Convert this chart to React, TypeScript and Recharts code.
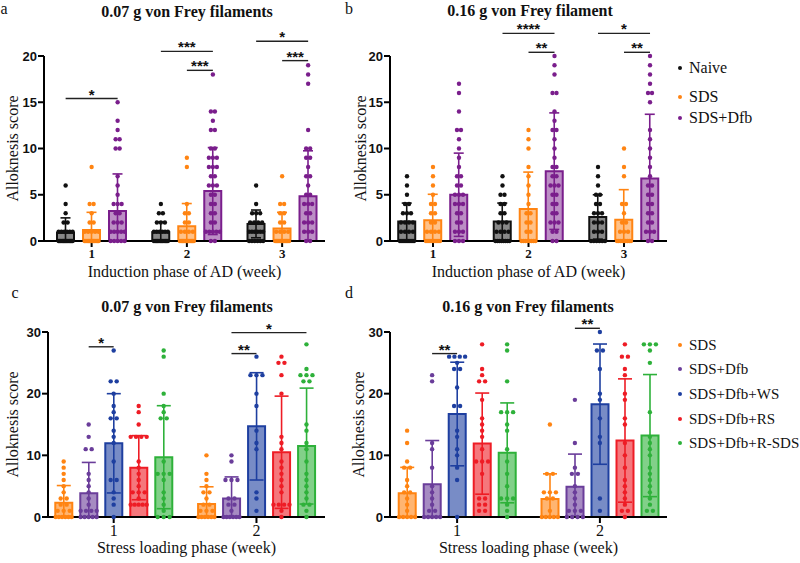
import React from "react";
import {
  ComposedChart,
  Bar,
  ErrorBar,
  Scatter,
  XAxis,
  YAxis,
  ReferenceLine,
  ReferenceDot,
} from "recharts";

const serif = '"Liberation Serif", "Times New Roman", serif';
const sans = '"Liberation Sans", Arial, sans-serif';

// categories
const weeksTop = [1, 2, 3];
const weeksBottom = [1, 2];
const groupsTop = ["Naive", "SDS", "SDS+Dfb"];
const groupsBottom = ["SDS", "SDS+Dfb", "SDS+Dfb+WS", "SDS+Dfb+RS", "SDS+Dfb+R-SDS"];
const colorsTop = ["#111111", "#FF8412", "#7A1E8C"];
const colorsBottom = ["#FF8412", "#6A3D9A", "#1E3FA0", "#EE1C25", "#2EB13A"];

// panel a: 0.07 g, induction phase (rows = group, cols = week)
const aMeans = [
  [0.9, 0.95, 1.85],
  [1.2, 1.6, 1.35],
  [3.25, 5.4, 4.85],
];
const aSds = [
  [1.6, 1.1, 1.5],
  [1.9, 2.45, 1.75],
  [4.0, 4.7, 4.9],
];
const aDots = [
  [
    [6, 4, 3, 2, 2, 1, 1, 1, 1, 1, 1, 0, 0, 0, 0, 0, 0, 0, 0, 0, 0, 0, 0, 0],
    [4, 3, 3, 2, 2, 2, 1, 1, 1, 1, 1, 1, 0, 0, 0, 0, 0, 0, 0, 0, 0, 0, 0, 0],
    [6, 4, 3, 3, 3, 2, 2, 2, 2, 1, 1, 1, 1, 1, 1, 0, 0, 0, 0, 0, 0],
  ],
  [
    [8, 4, 4, 3, 2, 2, 1, 1, 1, 1, 1, 0, 0, 0, 0, 0, 0, 0, 0, 0, 0, 0, 0],
    [9, 8, 4, 3, 3, 2, 2, 1, 1, 1, 1, 0, 0, 0, 0, 0, 0, 0, 0, 0, 0, 0, 0],
    [7, 4, 4, 3, 3, 2, 2, 1, 1, 1, 1, 0, 0, 0, 0, 0, 0, 0, 0, 0, 0, 0, 0],
  ],
  [
    [15, 13, 12, 11, 11, 10, 10, 7, 6, 5, 4, 4, 4, 3, 3, 2, 2, 2, 1, 1, 1, 1, 1, 0, 0, 0, 0, 0],
    [18, 14, 14, 13, 12, 12, 10, 10, 9, 9, 9, 8, 8, 8, 7, 7, 6, 6, 6, 5, 5, 4, 4, 3, 3, 2, 2, 1, 1, 1, 1, 1, 0, 0],
    [19, 18, 17, 12, 10, 10, 9, 9, 8, 7, 7, 6, 5, 5, 4, 4, 4, 3, 3, 2, 2, 2, 1, 1, 1, 0, 0],
  ],
];
const aSig = [
  { week: 1, from: 0, to: 2, level: 15.4, label: "*" },
  { week: 2, from: 0, to: 2, level: 20.5, label: "***" },
  { week: 2, from: 1, to: 2, level: 18.45, label: "***" },
  { week: 3, from: 0, to: 2, level: 21.6, label: "*" },
  { week: 3, from: 1, to: 2, level: 19.5, label: "***" },
];

// panel b: 0.16 g, induction phase
const bMeans = [
  [2.1, 2.1, 2.6],
  [2.25, 3.45, 2.3],
  [5.0, 7.55, 6.75],
];
const bSds = [
  [2.0, 2.0, 2.4],
  [2.8, 4.0, 3.25],
  [4.5, 6.3, 6.95],
];
const bDots = [
  [
    [7, 6, 5, 4, 4, 3, 3, 3, 2, 2, 2, 2, 1, 1, 1, 1, 0, 0, 0, 0, 0, 0, 0, 0],
    [7, 6, 5, 5, 4, 4, 3, 3, 2, 2, 2, 1, 1, 1, 1, 0, 0, 0, 0, 0, 0, 0, 0],
    [8, 7, 6, 5, 5, 4, 4, 3, 3, 3, 2, 2, 2, 1, 1, 1, 0, 0, 0, 0, 0, 0],
  ],
  [
    [8, 7, 6, 5, 4, 4, 3, 3, 2, 2, 1, 1, 1, 1, 0, 0, 0, 0, 0, 0, 0, 0],
    [12, 11, 10, 8, 7, 6, 5, 4, 3, 3, 2, 2, 1, 1, 0, 0, 0, 0, 0, 0, 0, 0],
    [10, 8, 7, 4, 4, 3, 2, 2, 1, 1, 1, 0, 0, 0, 0, 0, 0, 0, 0, 0],
  ],
  [
    [17, 16, 14, 12, 12, 11, 10, 9, 8, 7, 7, 6, 6, 5, 5, 5, 4, 4, 4, 3, 3, 2, 2, 1, 1, 1, 0, 0, 0],
    [20, 19, 18, 16, 16, 14, 13, 12, 12, 11, 10, 9, 8, 8, 7, 7, 6, 6, 6, 5, 5, 4, 4, 3, 3, 2, 2, 2, 1, 1, 0, 0],
    [20, 19, 18, 17, 16, 16, 15, 12, 11, 10, 9, 8, 7, 6, 6, 5, 5, 4, 4, 3, 3, 2, 2, 1, 1, 1, 0, 0],
  ],
];
const bSig = [
  { week: 2, from: 0, to: 2, level: 22.45, label: "****" },
  { week: 2, from: 1, to: 2, level: 20.4, label: "**" },
  { week: 3, from: 0, to: 2, level: 22.45, label: "*" },
  { week: 3, from: 1, to: 2, level: 20.4, label: "**" },
];

// panel c: 0.07 g, stress loading phase
const cMeans = [
  [2.3, 2.1],
  [3.85, 3.0],
  [11.95, 14.7],
  [8.0, 10.5],
  [9.7, 11.5],
];
const cSds = [
  [2.8, 2.8],
  [5.0, 3.5],
  [8.05, 8.7],
  [5.2, 9.1],
  [8.35, 9.4],
];
const cDots = [
  [
    [9, 8, 7, 6, 5, 4, 3, 3, 2, 2, 1, 1, 1, 0, 0, 0, 0, 0, 0],
    [10, 7, 6, 5, 4, 4, 3, 2, 2, 1, 1, 1, 0, 0, 0, 0, 0, 0],
  ],
  [
    [15, 13, 11, 11, 7, 6, 5, 4, 3, 2, 1, 1, 1, 1, 0, 0, 0, 0, 0],
    [10, 9, 6, 6, 6, 3, 3, 2, 2, 1, 0, 0, 0, 0, 0, 0],
  ],
  [
    [27, 22, 22, 20, 18, 17, 16, 16, 14, 13, 12, 9, 6, 6, 4, 3, 2, 0],
    [26, 23, 23, 23, 20, 18, 14, 12, 11, 4, 3, 1],
  ],
  [
    [18, 17, 15, 13, 13, 13, 13, 9, 8, 7, 6, 5, 4, 4, 4, 3, 2, 2, 2, 2, 2],
    [26, 25, 25, 23, 20, 13, 12, 11, 9, 8, 7, 6, 5, 4, 2, 2, 2, 2, 1, 0],
  ],
  [
    [27, 26, 20, 18, 17, 16, 16, 9, 7, 7, 7, 6, 4, 3, 2, 1, 0, 0, 0],
    [28, 24, 23, 23, 23, 22, 22, 15, 14, 12, 11, 9, 7, 6, 5, 4, 3, 2, 2, 1, 0],
  ],
];
const cSig = [
  { week: 1, from: 1, to: 2, level: 27.6, label: "*" },
  { week: 2, from: 1, to: 4, level: 29.9, label: "*" },
  { week: 2, from: 1, to: 2, level: 26.5, label: "**" },
];

// panel d: 0.16 g, stress loading phase
const dMeans = [
  [3.85, 2.9],
  [5.3, 4.9],
  [16.7, 18.3],
  [11.9, 12.4],
  [10.4, 13.2],
];
const dSds = [
  [4.2, 4.1],
  [7.1, 5.3],
  [8.4, 9.75],
  [8.2, 10.0],
  [8.1, 9.9],
];
const dDots = [
  [
    [14, 12, 9, 8, 8, 6, 5, 4, 4, 3, 2, 1, 0, 0, 0, 0, 0],
    [15, 7, 7, 4, 4, 4, 3, 3, 1, 0, 0, 0, 0, 0],
  ],
  [
    [23, 22, 12, 11, 8, 5, 4, 3, 2, 1, 1, 0, 0, 0, 0, 0],
    [19, 12, 8, 7, 7, 5, 4, 3, 2, 1, 1, 1, 0, 0, 0, 0],
  ],
  [
    [26, 26, 26, 26, 25, 24, 24, 21, 18, 18, 14, 13, 11, 10, 8, 6, 0],
    [30, 27, 27, 24, 20, 19, 16, 13, 12, 3, 1],
  ],
  [
    [28, 24, 23, 22, 22, 19, 16, 15, 14, 13, 11, 9, 9, 9, 7, 3, 3, 2, 2, 1, 1],
    [28, 26, 26, 24, 23, 20, 19, 16, 15, 12, 10, 8, 6, 5, 4, 3, 2, 1, 1, 0],
  ],
  [
    [28, 27, 22, 17, 17, 17, 15, 14, 11, 9, 7, 5, 3, 3, 3, 2, 1, 0],
    [28, 28, 28, 27, 25, 17, 13, 12, 11, 10, 8, 7, 6, 5, 4, 3, 2, 1, 1],
  ],
];
const dSig = [
  { week: 1, from: 1, to: 2, level: 26.5, label: "**" },
  { week: 2, from: 1, to: 2, level: 30.6, label: "**" },
];

type Sig = { week: number; from: number; to: number; level: number; label: string };

type PanelProps = {
  left: number;
  top: number;
  width: number;
  height: number;
  margin: { top: number; right: number; bottom: number; left: number };
  yAxisWidth: number;
  weeks: number[];
  xDomain: [number, number];
  yMax: number;
  yTicks: number[];
  groups: string[];
  colors: string[];
  fillOpacity: number;
  means: number[][];
  sds: number[][];
  dots: number[][][];
  sig: Sig[];
  barSize: number;
  barGap: number;
  swarmPx: number;
  swarmMax: number;
  capWidth: number;
  xTick: any;
  yLabelX: number;
  xLabel: string;
};

const Panel = (p: PanelProps) => {
  const plotW = p.width - p.margin.left - p.margin.right - p.yAxisWidth;
  const unitPx = plotW / (p.xDomain[1] - p.xDomain[0]);
  const n = p.groups.length;
  const slot = (p.barSize + p.barGap) / unitPx;
  const groupX = (week: number, j: number) => week + (j - (n - 1) / 2) * slot;

  const rows = p.weeks.map((w, i) => {
    const r: any = { x: w };
    p.groups.forEach((_, j) => {
      r[`m${j}`] = p.means[j][i];
      r[`e${j}`] = [Math.min(p.sds[j][i], p.means[j][i]), p.sds[j][i]];
    });
    return r;
  });

  // spread equal values side by side (beeswarm style)
  const swarm = (vals: number[], center: number) => {
    const counts = new Map<number, number>();
    vals.forEach((v) => counts.set(v, (counts.get(v) || 0) + 1));
    const out: { x: number; y: number }[] = [];
    counts.forEach((k, v) => {
      const step = k > 1 ? Math.min(p.swarmPx, p.swarmMax / (k - 1)) : 0;
      for (let i = 0; i < k; i++) {
        out.push({ x: center + ((i - (k - 1) / 2) * step) / unitPx, y: v });
      }
    });
    return out;
  };

  const dotData = p.groups.map((_, j) =>
    p.weeks.flatMap((w, i) => swarm(p.dots[j][i], groupX(w, j)))
  );

  return (
    <div style={{ position: "absolute", left: p.left, top: p.top }}>
      <ComposedChart
        width={p.width}
        height={p.height}
        data={rows}
        margin={p.margin}
        barSize={p.barSize}
        barGap={p.barGap}
      >
        <XAxis
          dataKey="x"
          type="number"
          domain={p.xDomain}
          ticks={p.weeks}
          height={20}
          tickSize={6}
          tickMargin={2}
          tick={p.xTick}
          tickLine={{ stroke: "#000", strokeWidth: 2 }}
          axisLine={{ stroke: "#000", strokeWidth: 2 }}
          label={{
            content: ({ viewBox }: any) => (
              <text
                x={viewBox.x + viewBox.width / 2}
                y={viewBox.y + 36}
                textAnchor="middle"
                fontFamily={serif}
                fontSize={16}
                fill="#111"
              >
                {p.xLabel}
              </text>
            ),
          }}
        />
        <XAxis xAxisId="dots" dataKey="x" type="number" domain={p.xDomain} hide />
        <YAxis
          domain={[0, p.yMax]}
          ticks={p.yTicks}
          width={p.yAxisWidth}
          tickSize={6}
          tickMargin={1}
          tick={{ fill: "#111", fontSize: 13, fontWeight: 700, fontFamily: sans }}
          tickLine={{ stroke: "#000", strokeWidth: 2 }}
          axisLine={{ stroke: "#000", strokeWidth: 2 }}
          label={{
            content: ({ viewBox }: any) => {
              const cy = viewBox.y + viewBox.height / 2;
              return (
                <text
                  x={p.yLabelX}
                  y={cy}
                  transform={`rotate(-90 ${p.yLabelX} ${cy})`}
                  textAnchor="middle"
                  dominantBaseline="central"
                  fontFamily={serif}
                  fontSize={16}
                  fill="#111"
                >
                  Alloknesis score
                </text>
              );
            },
          }}
        />
        {p.groups.map((g, j) => (
          <Bar
            key={g}
            dataKey={`m${j}`}
            fill={p.colors[j]}
            fillOpacity={p.fillOpacity}
            stroke={p.colors[j]}
            strokeWidth={2}
            isAnimationActive={false}
          >
            <ErrorBar
              dataKey={`e${j}`}
              direction="y"
              width={p.capWidth}
              stroke={p.colors[j]}
              strokeWidth={1.6}
            />
          </Bar>
        ))}
        {p.groups.map((g, j) => (
          <Scatter
            key={`dots-${g}`}
            xAxisId="dots"
            data={dotData[j]}
            dataKey="y"
            fill={p.colors[j]}
            isAnimationActive={false}
            shape={(s: any) => <circle cx={s.cx} cy={s.cy} r={2.2} fill={p.colors[j]} />}
          />
        ))}
        {p.sig.map((s, k) => (
          <ReferenceLine
            key={`l${k}`}
            ifOverflow="visible"
            segment={[
              { x: groupX(s.week, s.from), y: s.level },
              { x: groupX(s.week, s.to), y: s.level },
            ]}
            stroke="#222"
            strokeWidth={1.4}
          />
        ))}
        {p.sig.map((s, k) => (
          <ReferenceDot
            key={`s${k}`}
            ifOverflow="visible"
            x={(groupX(s.week, s.from) + groupX(s.week, s.to)) / 2}
            y={s.level}
            r={1}
            shape={(d: any) => (
              <text
                x={d.cx}
                y={d.cy + 1}
                textAnchor="middle"
                fontFamily={sans}
                fontWeight={700}
                fontSize={15}
                fill="#111"
              >
                {s.label}
              </text>
            )}
          />
        ))}
      </ComposedChart>
    </div>
  );
};

const Text = ({ x, y, children, bold, size = 16, anchor = "center" }: any) => (
  <div
    style={{
      position: "absolute",
      left: x,
      top: y,
      transform: anchor === "center" ? "translate(-50%, -50%)" : "translate(0, -50%)",
      whiteSpace: "nowrap",
      fontFamily: serif,
      fontSize: size,
      fontWeight: bold ? 700 : 400,
      color: "#111",
      lineHeight: 1,
    }}
  >
    {children}
  </div>
);

const LegendList = ({ x, ys, labels, colors, size }: any) => (
  <>
    {labels.map((l: string, i: number) => (
      <React.Fragment key={l}>
        <div
          style={{
            position: "absolute",
            left: x - 2,
            top: ys[i] - 2,
            width: 4,
            height: 4,
            borderRadius: 2,
            background: colors[i],
          }}
        />
        <Text x={x + 9} y={ys[i]} size={size} anchor="left">
          {l}
        </Text>
      </React.Fragment>
    ))}
  </>
);

export default function App() {
  const topTick = { fill: "#111", fontSize: 13, fontWeight: 700, fontFamily: serif };
  const bottomTick = { fill: "#111", fontSize: 16, fontFamily: serif };
  return (
    <div
      style={{
        position: "absolute",
        left: 0,
        top: 0,
        width: 800,
        height: 563,
        background: "#fff",
        overflow: "hidden",
      }}
    >
      <Panel
        left={0}
        top={0}
        width={340}
        height={280}
        margin={{ top: 56, right: 15, bottom: 19, left: 0 }}
        yAxisWidth={44}
        weeks={weeksTop}
        xDomain={[0.5, 3.45]}
        yMax={20}
        yTicks={[0, 5, 10, 15, 20]}
        groups={groupsTop}
        colors={colorsTop}
        fillOpacity={0.5}
        means={aMeans}
        sds={aSds}
        dots={aDots}
        sig={aSig}
        barSize={17}
        barGap={9}
        swarmPx={4}
        swarmMax={14}
        capWidth={5}
        xTick={topTick}
        yLabelX={12}
        xLabel="Induction phase of AD (week)"
      />
      <Panel
        left={346}
        top={0}
        width={330}
        height={280}
        margin={{ top: 56, right: 9, bottom: 19, left: 0 }}
        yAxisWidth={44}
        weeks={weeksTop}
        xDomain={[0.55, 3.45]}
        yMax={20}
        yTicks={[0, 5, 10, 15, 20]}
        groups={groupsTop}
        colors={colorsTop}
        fillOpacity={0.5}
        means={bMeans}
        sds={bSds}
        dots={bDots}
        sig={bSig}
        barSize={17}
        barGap={9}
        swarmPx={4}
        swarmMax={14}
        capWidth={5}
        xTick={topTick}
        yLabelX={14}
        xLabel="Induction phase of AD (week)"
      />
      <Panel
        left={0}
        top={280}
        width={340}
        height={283}
        margin={{ top: 52, right: 15, bottom: 26, left: 0 }}
        yAxisWidth={48}
        weeks={weeksBottom}
        xDomain={[0.54, 2.48]}
        yMax={30}
        yTicks={[0, 10, 20, 30]}
        groups={groupsBottom}
        colors={colorsBottom}
        fillOpacity={0.6}
        means={cMeans}
        sds={cSds}
        dots={cDots}
        sig={cSig}
        barSize={17}
        barGap={8}
        swarmPx={6}
        swarmMax={16}
        capWidth={7}
        xTick={bottomTick}
        yLabelX={12}
        xLabel="Stress loading phase (week)"
      />
      <Panel
        left={342}
        top={280}
        width={334}
        height={283}
        margin={{ top: 52, right: 9, bottom: 26, left: 0 }}
        yAxisWidth={48}
        weeks={weeksBottom}
        xDomain={[0.53, 2.47]}
        yMax={30}
        yTicks={[0, 10, 20, 30]}
        groups={groupsBottom}
        colors={colorsBottom}
        fillOpacity={0.6}
        means={dMeans}
        sds={dSds}
        dots={dDots}
        sig={dSig}
        barSize={17}
        barGap={8}
        swarmPx={6}
        swarmMax={16}
        capWidth={7}
        xTick={bottomTick}
        yLabelX={16}
        xLabel="Stress loading phase (week)"
      />

      <Text x={4} y={9} size={16}>a</Text>
      <Text x={349} y={9} size={16}>b</Text>
      <Text x={15} y={293} size={16}>c</Text>
      <Text x={349} y={293} size={16}>d</Text>

      <Text x={187} y={12} bold size={16}>0.07 g von Frey filaments</Text>
      <Text x={530} y={11} bold size={16}>0.16 g von Frey filament</Text>
      <Text x={187} y={307} bold size={16}>0.07 g von Frey filaments</Text>
      <Text x={528} y={307} bold size={16}>0.16 g von Frey filaments</Text>

      <LegendList x={680} ys={[68, 97, 118]} labels={groupsTop} colors={colorsTop} size={16} />
      <LegendList
        x={680}
        ys={[345, 369, 394, 419, 443]}
        labels={groupsBottom}
        colors={colorsBottom}
        size={15}
      />
    </div>
  );
}
